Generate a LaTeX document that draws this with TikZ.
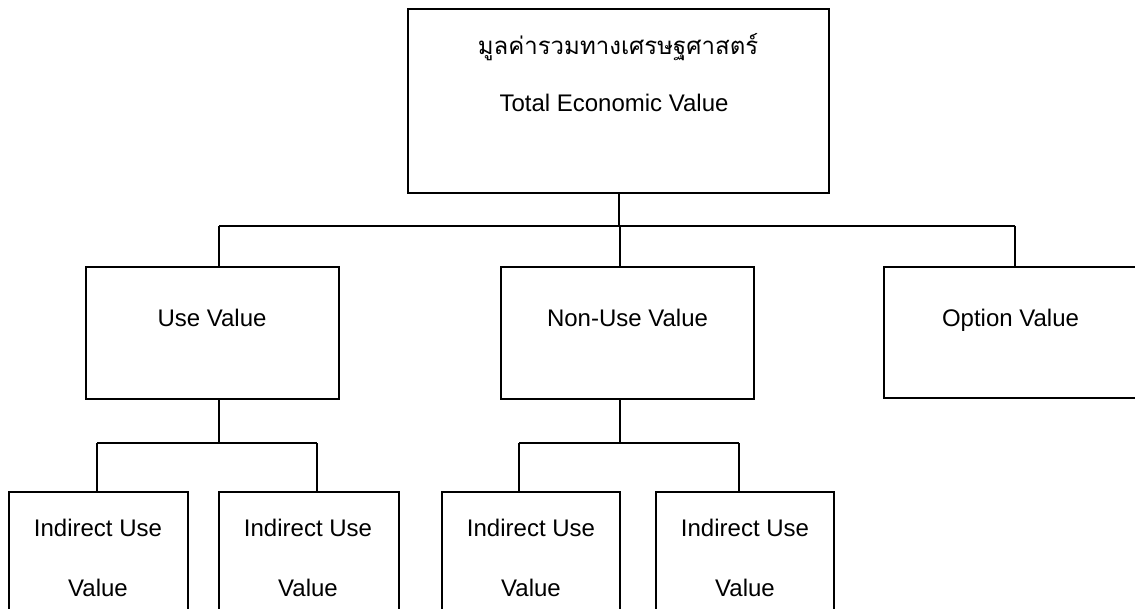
\documentclass[tikz,border=0pt]{standalone}
\usepackage{fontspec}
\setmainfont{Liberation Sans}
\newfontfamily\thaifont[Script=Thai]{Loma}
\begin{document}
\begin{tikzpicture}[x=1pt,y=-1pt,
  box/.style={draw=black, line width=1.5pt, fill=none, inner sep=0pt, outer sep=0pt},
  lbl/.style={anchor=base, inner sep=0pt, font=\fontsize{24}{28}\selectfont},
  conn/.style={draw=black, line width=1.5pt}]
\useasboundingbox (0,0) rectangle (1135,609);
\clip (0,0) rectangle (1135,609);

% boxes
\node[box, minimum width=421pt, minimum height=184pt] (tev) at (618.5,101) {};
\node[box, minimum width=253pt, minimum height=132pt] (use) at (212.5,333) {};
\node[box, minimum width=253pt, minimum height=132pt] (non) at (627.5,333) {};
\node[box, minimum width=253pt, minimum height=131pt] (opt) at (1010.5,332.5) {};
\node[box, minimum width=179pt, minimum height=160pt] (iu1) at (98.5,572) {};
\node[box, minimum width=180pt, minimum height=160pt] (iu2) at (309,572) {};
\node[box, minimum width=178pt, minimum height=160pt] (iu3) at (531,572) {};
\node[box, minimum width=178pt, minimum height=160pt] (iu4) at (745,572) {};

% labels
\node[lbl, font=\thaifont\fontsize{24}{28}\selectfont] (tevth) at (618,55) {มูลค่ารวมทางเศรษฐศาสตร์};
\node[lbl] (teven) at (614,112) {Total Economic Value};
\node[lbl] (usel) at (212,327) {Use Value};
\node[lbl] (nonl) at (627.5,327) {Non-Use Value};
\node[lbl] (optl) at (1010.5,327) {Option Value};
\node[lbl] (iu1a) at (98,536) {Indirect Use};
\node[lbl] (iu1b) at (98,596) {Value};
\node[lbl] (iu2a) at (308,536) {Indirect Use};
\node[lbl] (iu2b) at (308,596) {Value};
\node[lbl] (iu3a) at (531,536) {Indirect Use};
\node[lbl] (iu3b) at (531,596) {Value};
\node[lbl] (iu4a) at (745,536) {Indirect Use};
\node[lbl] (iu4b) at (745,596) {Value};

% junction points of the tree
\coordinate (busT) at (619,226);
\coordinate (dUse) at (219,226);
\coordinate (dNon) at (620,226);
\coordinate (dOpt) at (1015,226);
\coordinate (busU) at (219,443);
\coordinate (dIu1) at (97,443);
\coordinate (dIu2) at (317,443);
\coordinate (busN) at (620,443);
\coordinate (dIu3) at (519,443);
\coordinate (dIu4) at (739,443);

% connectors: total -> three value types
\draw[conn] (busT |- tev.south) -- (busT);
\draw[conn] (dUse) -- (dOpt);
\draw[conn] (dUse) -- (dUse |- use.north);
\draw[conn] (dNon) -- (dNon |- non.north);
\draw[conn] (dOpt) -- (dOpt |- opt.north);

% connectors: use value -> children
\draw[conn] (busU |- use.south) -- (busU);
\draw[conn] (dIu1) -- (dIu2);
\draw[conn] (dIu1) -- (dIu1 |- iu1.north);
\draw[conn] (dIu2) -- (dIu2 |- iu2.north);

% connectors: non-use value -> children
\draw[conn] (busN |- non.south) -- (busN);
\draw[conn] (dIu3) -- (dIu4);
\draw[conn] (dIu3) -- (dIu3 |- iu3.north);
\draw[conn] (dIu4) -- (dIu4 |- iu4.north);
\end{tikzpicture}
\end{document}
